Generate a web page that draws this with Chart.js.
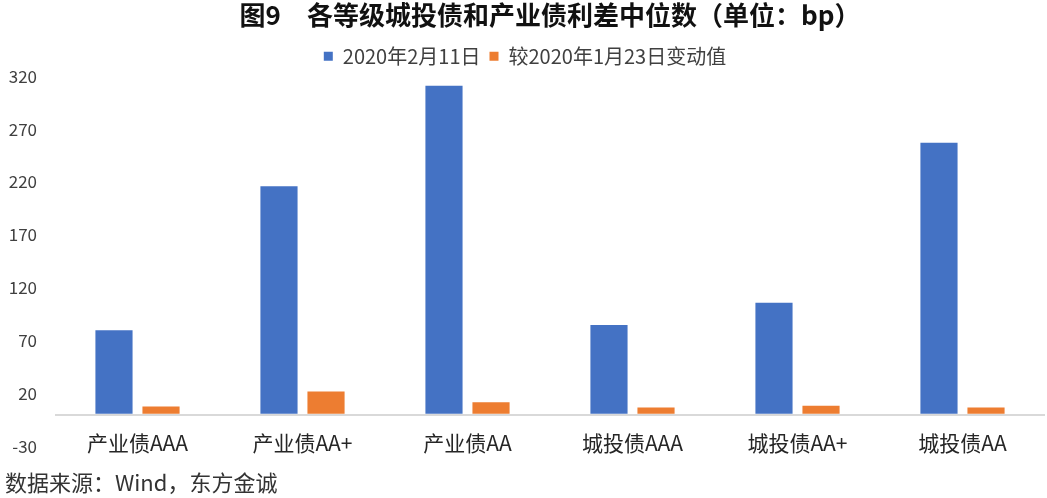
<!DOCTYPE html>
<html>
<head>
<meta charset="utf-8">
<script src="https://cdn.jsdelivr.net/npm/chart.js@4"></script>
<style>
  html, body { margin: 0; padding: 0; background: #fff; }
  #wrap { width: 1047px; height: 498px; }
</style>
</head>
<body>
<div id="wrap"><canvas id="myChart" width="1047" height="498"></canvas></div>
<script>
const labels = ['产业债AAA', '产业债AA+', '产业债AA', '城投债AAA', '城投债AA+', '城投债AA'];
const spreadFeb11 = [80, 216, 311, 85, 106, 257];
const changeVsJan23 = [8, 22, 12, 7, 8.5, 7];
const yTicks = [-30, 0, 20, 70, 120, 170, 220, 270, 320];

const cjk = '"Noto Sans CJK SC", "Noto Sans", sans-serif';

const data = {
  labels: labels,
  datasets: [{
    label: '2020年2月11日',
    data: spreadFeb11,
    backgroundColor: '#4472C4',
    borderWidth: 0
  }, {
    label: '较2020年1月23日变动值',
    data: changeVsJan23,
    backgroundColor: '#ED7D31',
    borderWidth: 0
  }]
};

const config = {
  type: 'bar',
  data,
  options: {
    responsive: false,
    animation: false,
    layout: { padding: { left: 5, right: 2, top: 0, bottom: 0 } },
    datasets: {
      bar: { categoryPercentage: 0.57, barPercentage: 0.79 }
    },
    plugins: {
      title: {
        display: true,
        fullSize: false,
        text: '图9　各等级城投债和产业债利差中位数（单位：bp）',
        font: { family: cjk, size: 26, weight: 'bold' },
        color: '#111',
        padding: { top: 0, bottom: 6 }
      },
      subtitle: {
        display: true,
        position: 'bottom',
        align: 'start',
        text: '数据来源：Wind，东方金诚',
        font: { family: cjk, size: 22, weight: 'normal' },
        color: '#333',
        padding: { top: 3, bottom: 2 }
      },
      legend: {
        labels: {
          boxWidth: 9,
          boxHeight: 9,
          padding: 9,
          font: { family: cjk, size: 20 },
          color: '#404040'
        }
      },
      tooltip: { enabled: false }
    },
    scales: {
      x: {
        grid: { display: false, drawTicks: false, tickLength: 0 },
        border: { display: false },
        ticks: {
          // mirror keeps the labels from being clipped to the short axis box
          mirror: true,
          padding: -9,
          font: { family: cjk, size: 21 },
          color: '#262626'
        },
        afterFit: (s) => { s.height = 20; }
      },
      y: {
        min: -30,
        max: 320,
        afterBuildTicks: (s) => { s.ticks = yTicks.map(v => ({ value: v })); },
        grid: {
          drawTicks: false,
          tickLength: 0,
          color: (ctx) => (ctx.tick && ctx.tick.value === 0 ? '#d9d9d9' : 'rgba(0,0,0,0)'),
          lineWidth: (ctx) => (ctx.tick && ctx.tick.value === 0 ? 2 : 0)
        },
        border: { display: false },
        ticks: {
          padding: 18,
          font: { family: cjk, size: 17 },
          color: '#404040',
          callback: (v) => (v === 0 ? '' : v)
        },
        afterFit: (s) => { s.width = 50; }
      }
    }
  }
};

const myChart = new Chart(
  document.getElementById('myChart'),
  config
);
</script>
</body>
</html>
